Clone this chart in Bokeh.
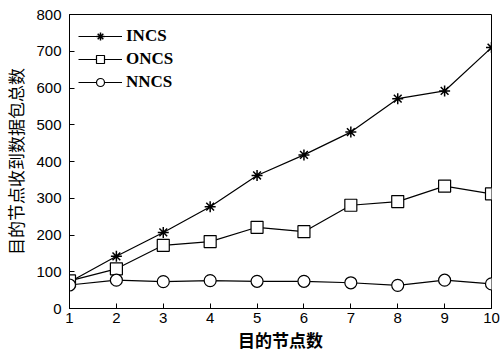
from bokeh.plotting import figure
from bokeh.models import Range1d, FixedTicker, Legend, LegendItem
from bokeh.embed import file_html
from bokeh.resources import INLINE

x_nodes = [1, 2, 3, 4, 5, 6, 7, 8, 9, 10]
incs = [72, 142, 207, 277, 362, 418, 480, 571, 592, 710]
oncs = [75, 108, 172, 182, 221, 209, 281, 291, 333, 312]
nncs = [64, 77, 73, 76, 74, 74, 70, 63, 77, 67]
x_ticks = [1, 2, 3, 4, 5, 6, 7, 8, 9, 10]
y_ticks = [0, 100, 200, 300, 400, 500, 600, 700, 800]

p = figure(width=501, height=354, output_backend="svg", toolbar_location=None,
           x_range=Range1d(1, 10), y_range=Range1d(0, 800),
           min_border_left=67, min_border_right=10, min_border_top=14, min_border_bottom=46)

p.xgrid.visible = False
p.ygrid.visible = False
p.outline_line_color = "black"
p.outline_line_width = 1
p.background_fill_color = "white"
p.border_fill_color = "white"

for ax in (p.xaxis[0], p.yaxis[0]):
    ax.axis_line_color = "black"
    ax.major_tick_in = 5
    ax.major_tick_out = 0
    ax.minor_tick_in = 0
    ax.minor_tick_out = 0
    ax.major_label_text_font = "Liberation Sans"
    ax.major_label_text_font_size = "15px"
    ax.major_label_text_color = "black"
    ax.axis_label_text_font = "Noto Sans CJK SC"
    ax.axis_label_text_font_style = "normal"
    ax.axis_label_text_color = "black"

p.xaxis.ticker = FixedTicker(ticks=x_ticks)
p.yaxis.ticker = FixedTicker(ticks=y_ticks)
p.xaxis.major_label_standoff = 4
p.yaxis.major_label_standoff = 8
p.xaxis.axis_label = "目的节点数"
p.yaxis.axis_label = "目的节点收到数据包总数"
p.xaxis.axis_label_standoff = 1
p.yaxis.axis_label_standoff = 5
p.xaxis.axis_label_text_font_size = "17px"
p.yaxis.axis_label_text_font_size = "17px"
p.xaxis.axis_label_text_font_style = "bold"

l1 = p.line(x_nodes, incs, line_color="black", line_width=1.2)
s1 = p.scatter(x_nodes, incs, marker="asterisk", size=11, line_color="black", line_width=1.5)
l2 = p.line(x_nodes, oncs, line_color="black", line_width=1.2)
s2 = p.scatter(x_nodes, oncs, marker="square", size=12, line_color="black", fill_color="white", line_width=1.2)
l3 = p.line(x_nodes, nncs, line_color="black", line_width=1.2)
s3 = p.scatter(x_nodes, nncs, marker="circle", size=12, line_color="black", fill_color="white", line_width=1.2)

legend = Legend(items=[
    LegendItem(label="INCS", renderers=[l1, s1]),
    LegendItem(label="ONCS", renderers=[l2, s2]),
    LegendItem(label="NNCS", renderers=[l3, s3]),
], location=(9, 216))
legend.border_line_color = None
legend.background_fill_alpha = 0
legend.margin = 0
legend.padding = 4
legend.spacing = 3
legend.glyph_width = 44
legend.glyph_height = 20
legend.label_standoff = 4
legend.label_text_font = "Liberation Serif"
legend.label_text_font_style = "bold"
legend.label_text_font_size = "17px"
legend.label_text_color = "black"
p.add_layout(legend)

open("out.html", "w").write(file_html(p, INLINE))
